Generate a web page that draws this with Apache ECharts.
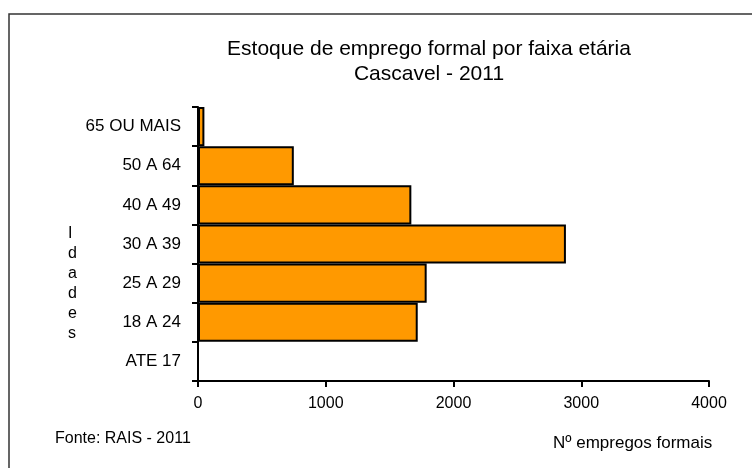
<!DOCTYPE html>
<html lang="pt">
<head>
	<meta charset="UTF-8">
	<title>Estoque de emprego formal</title>
	<script src="https://cdn.jsdelivr.net/npm/echarts@6/dist/echarts.min.js"></script>
	<style>
		html,body{margin:0;padding:0;background:#fff;}
		#main{width:752px;height:468px;}
	</style>
</head>
<body>
	<div id="main"></div>
	<script>
		// faixas etárias, de baixo para cima
		var faixas = ['ATE 17', '18 A 24', '25 A 29', '30 A 39', '40 A 49', '50 A 64', '65 OU MAIS'];
		var empregos = [0, 1720, 1790, 2880, 1670, 750, 50];
		var ticksX = [0, 1000, 2000, 3000, 4000];

		var fonte = 'Liberation Sans, Arial, sans-serif';
		var myChart = echarts.init(document.getElementById('main'));
		var option = {
			animation: false,
			backgroundColor: '#fff',
			textStyle: { fontFamily: fonte },
			title: {
				text: 'Estoque de emprego formal por faixa etária\nCascavel - 2011',
				left: 424,
				top: 32,
				textAlign: 'center',
				textStyle: { fontSize: 21, fontWeight: 'normal', color: '#000', lineHeight: 25, fontFamily: fonte }
			},
			grid: { left: 198, right: 43, top: 107, bottom: 87 },
			xAxis: {
				type: 'value',
				min: ticksX[0],
				max: ticksX[ticksX.length - 1],
				interval: 1000,
				axisLine: { show: true, lineStyle: { color: '#000', width: 2 } },
				axisTick: { show: true, length: 6, lineStyle: { color: '#000', width: 2 } },
				axisLabel: { color: '#000', fontSize: 16, margin: 15, formatter: function (v) { return String(v); } },
				splitLine: { show: false }
			},
			yAxis: {
				type: 'category',
				data: faixas,
				axisLine: { show: true, lineStyle: { color: '#000', width: 2 } },
				axisTick: { show: true, length: 6, lineStyle: { color: '#000', width: 2 } },
				axisLabel: { color: '#000', fontSize: 17, margin: 17 }
			},
			series: [{
				type: 'bar',
				data: empregos,
				barCategoryGap: 0,
				itemStyle: { color: '#FF9900', borderColor: '#000', borderWidth: 2 }
			}],
			graphic: [
				{ type: 'rect', shape: { x: 9, y: 14, width: 760, height: 470 }, style: { fill: 'none', stroke: '#333', lineWidth: 1.5 }, z: -1 },
				{ type: 'text', left: 68, top: 224, style: { text: 'I\nd\na\nd\ne\ns', fontSize: 16, lineHeight: 20, fill: '#000', align: 'center', fontFamily: fonte } },
				{ type: 'text', left: 55, top: 431, style: { text: 'Fonte: RAIS - 2011', fontSize: 16, fill: '#000', fontFamily: fonte } },
				{ type: 'text', left: 553, top: 435, style: { text: 'Nº empregos formais', fontSize: 17, fill: '#000', fontFamily: fonte } }
			]
		};
		myChart.setOption(option);
	</script>
</body>
</html>
